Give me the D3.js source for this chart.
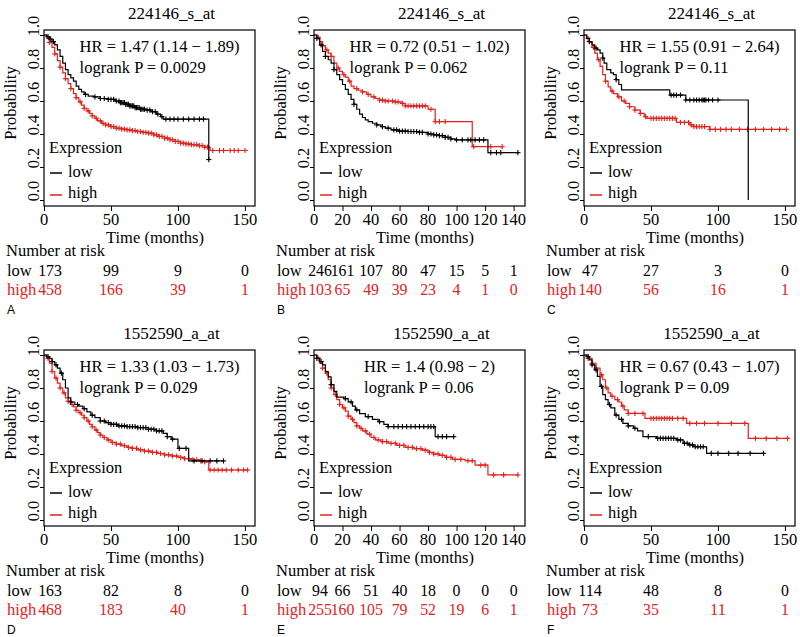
<!DOCTYPE html>
<html><head><meta charset="utf-8">
<script src="https://cdn.jsdelivr.net/npm/d3@7"></script>
</head><body style="margin:0">
<svg id="c" width="800" height="637"></svg>
<script>
// ---------- data ----------
const titles = ["224146_s_at","224146_s_at","224146_s_at","1552590_a_at","1552590_a_at","1552590_a_at"];
const hrTexts = ["HR = 1.47 (1.14 \u2212 1.89)","HR = 0.72 (0.51 \u2212 1.02)","HR = 1.55 (0.91 \u2212 2.64)",
                 "HR = 1.33 (1.03 \u2212 1.73)","HR = 1.4 (0.98 \u2212 2)","HR = 0.67 (0.43 \u2212 1.07)"];
const pTexts = ["logrank P = 0.0029","logrank P = 0.062","logrank P = 0.11","logrank P = 0.029","logrank P = 0.06","logrank P = 0.09"];
const letters = ["A","B","C","D","E","F"];
const ticks150 = [0,50,100,150];
const ticks140 = [0,20,40,60,80,100,120,140];
const yTicks = [0,0.2,0.4,0.6,0.8,1.0];
const xMax = [157.5,148,157.5,157.5,148,157.5];

const riskLow = [[173,99,9,0],[246,161,107,80,47,15,5,1],[47,27,3,0],[163,82,8,0],[94,66,51,40,18,0,0,0],[114,48,8,0]];
const riskHigh = [[458,166,39,1],[103,65,49,39,23,4,1,0],[140,56,16,1],[468,183,40,1],[255,160,105,79,52,19,6,1],[73,35,11,1]];

// Kaplan-Meier steps: [time, survival from that time on]
const lowA = [[0,1],[2,0.99],[4,0.975],[6,0.96],[8,0.94],[10,0.91],[12,0.87],[14,0.83],[16,0.79],[18,0.76],[20,0.74],[22,0.72],[24,0.69],[26,0.67],[28,0.655],[30,0.64],[33,0.63],[37,0.625],[42,0.615],[48,0.61],[53,0.6],[57,0.59],[61,0.58],[64,0.57],[68,0.56],[72,0.55],[76,0.545],[80,0.535],[84,0.52],[87,0.505],[89,0.49],[123,0.245]];
const highA = [[0,1],[2,0.98],[4,0.955],[6,0.925],[8,0.885],[10,0.845],[12,0.805],[14,0.77],[16,0.735],[18,0.705],[20,0.675],[22,0.645],[24,0.62],[26,0.595],[28,0.575],[30,0.555],[32,0.54],[34,0.525],[36,0.51],[38,0.495],[40,0.48],[43,0.465],[46,0.455],[50,0.445],[54,0.435],[58,0.43],[62,0.425],[66,0.42],[70,0.415],[74,0.41],[78,0.405],[82,0.395],[86,0.385],[90,0.375],[94,0.365],[98,0.355],[102,0.345],[106,0.34],[110,0.335],[115,0.33],[120,0.32],[124,0.3],[152,0.3]];
const lowB = [[0,1],[2,0.98],[4,0.94],[6,0.9],[8,0.87],[10,0.85],[12,0.83],[14,0.79],[16,0.76],[18,0.73],[20,0.7],[22,0.67],[24,0.64],[26,0.61],[28,0.58],[30,0.55],[32,0.52],[34,0.5],[36,0.485],[38,0.475],[41,0.465],[44,0.455],[47,0.445],[50,0.435],[54,0.425],[59,0.418],[66,0.415],[74,0.41],[80,0.4],[84,0.395],[88,0.39],[92,0.38],[96,0.37],[99,0.364],[122,0.287],[143,0.287]];
const highB = [[0,1],[2,0.985],[4,0.96],[6,0.935],[8,0.91],[10,0.89],[12,0.87],[14,0.83],[16,0.8],[18,0.78],[20,0.76],[22,0.745],[24,0.72],[26,0.69],[28,0.675],[31,0.665],[34,0.655],[37,0.64],[40,0.625],[43,0.615],[46,0.605],[50,0.6],[56,0.595],[61,0.585],[64,0.57],[80,0.55],[85,0.475],[111,0.323],[132,0.323]];
const lowC = [[0,1],[2,0.98],[4,0.96],[6,0.94],[8,0.92],[10,0.91],[12,0.89],[14,0.86],[15,0.83],[17,0.79],[20,0.77],[22,0.76],[24,0.73],[26,0.7],[28,0.667],[64,0.636],[76,0.606],[122.6,0]];
const highC = [[0,1],[2,0.98],[4,0.955],[6,0.925],[8,0.89],[10,0.85],[12,0.81],[14,0.76],[16,0.72],[18,0.685],[20,0.66],[22,0.645],[25,0.625],[28,0.6],[31,0.585],[34,0.565],[38,0.545],[42,0.525],[45,0.505],[47,0.495],[69,0.47],[79,0.455],[82,0.445],[94,0.428],[151,0.428]];
const lowD = [[0,1],[2,0.99],[4,0.98],[6,0.96],[8,0.94],[10,0.92],[12,0.89],[14,0.85],[16,0.8],[18,0.74],[20,0.715],[23,0.7],[26,0.69],[29,0.675],[32,0.655],[35,0.635],[38,0.62],[42,0.6],[46,0.59],[50,0.58],[55,0.57],[62,0.566],[70,0.56],[78,0.55],[84,0.54],[89,0.525],[92,0.505],[95,0.49],[100,0.434],[108,0.358],[134,0.358]];
const highD = [[0,1],[2,0.98],[4,0.95],[6,0.9],[8,0.86],[10,0.83],[12,0.8],[14,0.77],[16,0.74],[18,0.72],[20,0.7],[22,0.685],[24,0.665],[26,0.65],[28,0.635],[30,0.62],[32,0.6],[34,0.58],[36,0.565],[38,0.545],[40,0.53],[42,0.515],[44,0.5],[47,0.485],[50,0.47],[54,0.46],[58,0.45],[62,0.44],[66,0.434],[70,0.425],[75,0.418],[80,0.41],[85,0.403],[90,0.395],[95,0.388],[100,0.38],[105,0.372],[110,0.365],[116,0.358],[120,0.352],[123,0.303],[152,0.303]];
const lowE = [[0,1],[2,0.98],[4,0.96],[6,0.94],[8,0.9],[10,0.868],[12,0.82],[14,0.78],[16,0.745],[21,0.735],[24,0.715],[27,0.69],[29,0.667],[32,0.645],[36,0.626],[41,0.61],[45,0.596],[49,0.58],[52,0.566],[85,0.505],[98,0.505]];
const highE = [[0,1],[2,0.98],[4,0.95],[6,0.92],[8,0.89],[10,0.85],[12,0.8],[14,0.76],[16,0.73],[18,0.7],[20,0.68],[22,0.66],[24,0.63],[26,0.61],[28,0.59],[30,0.57],[32,0.555],[34,0.54],[37,0.52],[40,0.5],[43,0.485],[47,0.475],[52,0.465],[58,0.452],[64,0.44],[70,0.432],[76,0.424],[80,0.41],[84,0.4],[88,0.392],[92,0.38],[97,0.368],[106,0.359],[113,0.333],[122,0.273],[143,0.273]];
const lowF = [[0,1],[2,0.99],[4,0.97],[6,0.94],[8,0.91],[10,0.87],[12,0.81],[14,0.76],[16,0.73],[18,0.7],[20,0.68],[23,0.636],[26,0.61],[29,0.586],[33,0.57],[37,0.556],[40,0.54],[44,0.505],[54,0.495],[69,0.485],[74,0.465],[78,0.455],[82,0.444],[91.5,0.404],[134,0.404]];
const highF = [[0,1],[3,0.98],[6,0.95],[9,0.92],[12,0.88],[14,0.85],[16,0.8],[18,0.77],[20,0.75],[23,0.73],[26,0.715],[28,0.69],[30,0.667],[33,0.646],[45.5,0.616],[76.6,0.586],[122.6,0.495],[152.5,0.495]];

// censoring times
const censLowA = [3,5,7,31,38,42,45,48,50,52,54,56,57,58,59,60,61,62,63,64,65,66,67,68,69,70,71,72,73,74,75,77,79,81,83,85,88,91,94,97,100,104,108,112,116,119,123];
const censHighA = [4,8,12,16,20,24,27,30,33,36,39,42,44,46,48,50,52,54,56,58,60,62,64,66,68,70,72,74,76,78,80,82,84,86,88,90,92,94,96,98,100,102,104,106,108,110,112,114,116,118,120,122,126,131,134,139,142,145,150];
const censLowB = [2,5,8,14,28,44,48,52,56,58,60,62,64,66,68,70,72,74,76,80,82,84,86,88,90,92,94,96,100,104,108,110,113,116,119,124,128,131,143];
const censHighB = [3,6,9,12,17,21,25,30,34,38,42,46,48,50,52,55,57,59,62,64,66,68,70,72,74,76,78,82,85,88,92,112,124,132];
const censLowC = [4,9,14,24,65,67,69,72,76,79,82,84,86,88,89,90,91,93,96,100];
const censHighC = [3,7,11,16,21,26,30,34,38,42,46,50,52,54,56,58,60,62,64,66,68,72,75,78,80,82,84,86,88,90,94,98,102,106,110,116,122,128,134,140,146,151];
const censLowD = [3,6,9,13,20,25,30,36,42,45,48,50,52,54,56,58,60,62,64,66,68,70,72,74,76,78,80,82,84,86,88,92,96,101,106,112,118,124,129,134];
const censHighD = [3,6,9,12,15,18,21,24,27,30,33,36,39,42,45,48,51,54,57,60,63,66,69,72,75,78,81,84,87,90,93,96,99,102,105,108,111,114,117,120,124,127,130,133,136,140,145,149,152];
const censLowE = [2,5,12,22,26,30,38,46,52,56,59,62,65,68,71,74,77,80,82,84,87,90,93,98];
const censHighE = [3,6,9,12,15,18,21,24,27,30,33,36,39,42,45,48,51,54,57,60,63,66,69,72,75,78,81,84,87,90,93,96,99,103,108,111,117,120,126,133,143];
const censLowF = [3,6,9,13,19,24,28,33,38,48,55,57,59,61,63,65,67,70,72,75,77,79,81,83,85,87,89,95,100,108,115,124,134];
const censHighF = [3,6,9,13,17,21,25,29,33,38,44,50,52,54,56,58,60,62,64,66,70,74,79,84,90,100,110,120,128,136,144,152];

const lows = [lowA,lowB,lowC,lowD,lowE,lowF];
const highs = [highA,highB,highC,highD,highE,highF];
const censLows = [censLowA,censLowB,censLowC,censLowD,censLowE,censLowF];
const censHighs = [censHighA,censHighB,censHighC,censHighD,censHighE,censHighF];
const xTicksList = [ticks150,ticks140,ticks150,ticks150,ticks140,ticks150];

// ---------- drawing ----------
const RED = "#e3221c";
const svg = d3.select("#c");
const gfx = svg.append("g");
const colLeft = [44,314,584];
const rowOff = [0,320];
const boxW = 211;

function survAt(curve, t){ let s = 1; for (const [tt,ss] of curve) if (tt <= t) s = ss; return s; }
function txt(){ return svg.append("text").style("font-family","'Liberation Serif'").style("font-size","16.5px"); }

for (let i = 0; i < 6; i++){
  const L = colLeft[i % 3], oy = rowOff[Math.floor(i/3)];
  const R = L + boxW;
  const x = d3.scaleLinear().domain([0, xMax[i]]).range([L, R]);
  const y = d3.scaleLinear().domain([-0.0364, 1.0303]).range([oy+206, oy+30]);
  const cx = (L + R) / 2;

  txt().attr("x", cx + 22).attr("y", oy + 18.5).attr("text-anchor","middle").style("font-size","17px").text(titles[i]);

  const xa = gfx.append("g").attr("transform", `translate(0,${oy+206})`)
    .call(d3.axisBottom(x).tickValues(xTicksList[i]).tickSize(5).tickFormat(""));
  xa.select(".domain").remove();
  xa.selectAll("text").remove();
  xa.selectAll("line").attr("stroke","#000").attr("stroke-width",1);
  xTicksList[i].forEach(v => {
    txt().attr("x", x(v)).attr("y", oy + 225).attr("text-anchor","middle").text(v);
  });

  const ya = gfx.append("g").attr("transform", `translate(${L},0)`)
    .call(d3.axisLeft(y).tickValues(yTicks).tickSize(4).tickFormat(""));
  ya.select(".domain").remove();
  ya.selectAll("text").remove();
  ya.selectAll("line").attr("stroke","#000").attr("stroke-width",1);
  yTicks.forEach(v => {
    txt().attr("transform", `translate(${L-5.5},${y(v)-9}) rotate(-90)`)
      .attr("text-anchor","middle").text(d3.format(".1f")(v));
  });
  txt().attr("transform", `translate(${L-28},${oy+103}) rotate(-90)`).attr("text-anchor","middle").text("Probability");
  txt().attr("x", cx + 5.5).attr("y", oy + 242.5).attr("text-anchor","middle").text("Time (months)");

  const line = d3.line().x(d => x(d[0])).y(d => y(d[1])).curve(d3.curveStepAfter);
  const series = [[highs[i], censHighs[i], RED], [lows[i], censLows[i], "#000"]];
  for (const [curve, cens, col] of series){
    gfx.append("path").attr("d", line(curve)).attr("fill","none").attr("stroke",col).attr("stroke-width",1.2);
    const cg = gfx.append("g").attr("stroke", col).attr("stroke-width", 1.1);
    cens.forEach(t => {
      const px = x(t), py = y(survAt(curve, t));
      cg.append("line").attr("x1",px-2.6).attr("x2",px+2.6).attr("y1",py).attr("y2",py);
      cg.append("line").attr("x1",px).attr("x2",px).attr("y1",py-2.6).attr("y2",py+2.6);
    });
  }

  gfx.append("rect").attr("x", L).attr("y", oy+30).attr("width", boxW).attr("height", 176)
    .attr("fill","none").attr("stroke","#000").attr("stroke-width",1.2);

  const t1 = txt().attr("y", oy + 51.5).text(hrTexts[i]);
  const t2 = txt().attr("y", oy + 72.5).text(pTexts[i]);
  const mw = Math.max(t1.node().getComputedTextLength(), t2.node().getComputedTextLength());
  const sx = cx - mw/2 + 10;
  t1.attr("x", sx); t2.attr("x", sx);

  txt().attr("x", L+5).attr("y", oy+152.5).text("Expression");
  gfx.append("line").attr("x1", L+6).attr("x2", L+18).attr("y1", oy+173).attr("y2", oy+173).attr("stroke","#000").attr("stroke-width",1.5);
  txt().attr("x", L+24).attr("y", oy+176.5).text("low");
  gfx.append("line").attr("x1", L+6).attr("x2", L+18).attr("y1", oy+195).attr("y2", oy+195).attr("stroke",RED).attr("stroke-width",1.5);
  txt().attr("x", L+24).attr("y", oy+197.5).text("high");

  txt().attr("x", L-38).attr("y", oy+256).text("Number at risk");
  txt().attr("x", L-37).attr("y", oy+275.5).text("low");
  txt().attr("x", L-37).attr("y", oy+294.5).attr("fill",RED).text("high");
  const times = xTicksList[i];
  // risk numbers: width held to the serif digit width so neighbours never collide
  const riskText = (d, k, yy, col) => txt()
    .attr("x", x(times[k]) + (k === 0 ? 6 : 0)).attr("y", yy).attr("text-anchor","middle")
    .attr("fill", col).attr("textLength", String(d).length * 7.9).attr("lengthAdjust","spacingAndGlyphs")
    .text(d);
  riskLow[i].forEach((d,k) => riskText(d, k, oy+275.5, "#000"));
  riskHigh[i].forEach((d,k) => riskText(d, k, oy+294.5, RED));

  svg.append("text").attr("x", L-37).attr("y", oy+314)
    .style("font-family","'Liberation Sans'").style("font-size","12px").text(letters[i]);
}
</script>
</body></html>
